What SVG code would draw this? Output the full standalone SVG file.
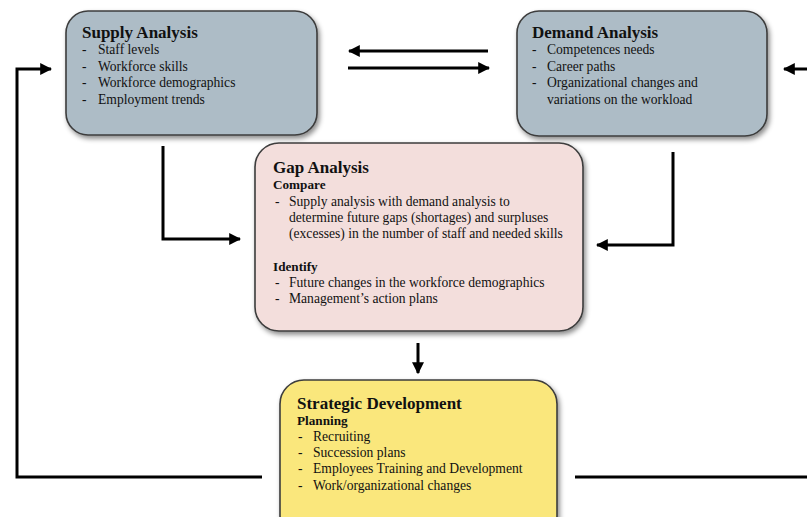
<svg xmlns="http://www.w3.org/2000/svg" width="807" height="517" viewBox="0 0 807 517">
  <defs>
    <filter id="shadow" x="-10%" y="-10%" width="125%" height="130%">
      <feDropShadow dx="2" dy="3" stdDeviation="2.5" flood-color="#000" flood-opacity="0.45"/>
    </filter>
    <marker id="head" viewBox="0 0 10 10" refX="9" refY="5" markerWidth="4" markerHeight="4" orient="auto" markerUnits="strokeWidth">
      <path d="M0,0 L10,5 L0,10 z" fill="#000"/>
    </marker>
    <style>
      .box { stroke: #3c3c3c; stroke-width: 1.6; filter: url(#shadow); }
      .supply, .demand { fill: #adbcc6; }
      .gap { fill: #f3dedc; }
      .strategic { fill: #fae77c; }
      text { font-family: "Liberation Serif", "Times New Roman", serif; fill: #111; }
      .title { font-size: 17px; font-weight: bold; }
      .sub { font-size: 13.2px; font-weight: bold; }
      .item { font-size: 13.6px; }
      .link { fill: none; stroke: #000; stroke-width: 3; }
      .arrow { marker-end: url(#head); }
    </style>
  </defs>

  <rect width="807" height="517" fill="#fff"/>

  <!-- connectors -->
  <g id="connectors">
    <line class="link arrow" x1="488" y1="51" x2="349" y2="51"/>
    <line class="link arrow" x1="348" y1="68" x2="489" y2="68"/>
    <polyline class="link arrow" points="163,146 163,239 240,239"/>
    <polyline class="link arrow" points="673,152 673,245 597,245"/>
    <line class="link arrow" x1="418" y1="343" x2="418" y2="373"/>
    <polyline class="link arrow" points="262,477 17,477 17,69 51,69"/>
    <line class="link" x1="575" y1="477" x2="807" y2="477"/>
    <line class="link arrow" x1="807" y1="69" x2="784" y2="69"/>
  </g>

  <!-- supply analysis -->
  <g id="supply">
    <rect class="box supply" x="66" y="11" width="251" height="124" rx="22"/>
    <text class="title" x="82" y="38">Supply Analysis</text>
    <text class="item" x="82" y="54">-</text><text class="item" x="98" y="54">Staff levels</text>
    <text class="item" x="82" y="71">-</text><text class="item" x="98" y="71">Workforce skills</text>
    <text class="item" x="82" y="87">-</text><text class="item" x="98" y="87">Workforce demographics</text>
    <text class="item" x="82" y="104">-</text><text class="item" x="98" y="104">Employment trends</text>
  </g>

  <!-- demand analysis -->
  <g id="demand">
    <rect class="box demand" x="517" y="11" width="250" height="125" rx="22"/>
    <text class="title" x="532" y="38">Demand Analysis</text>
    <text class="item" x="532" y="54">-</text><text class="item" x="547" y="54">Competences needs</text>
    <text class="item" x="532" y="71">-</text><text class="item" x="547" y="71">Career paths</text>
    <text class="item" x="532" y="87">-</text><text class="item" x="547" y="87">Organizational changes and</text>
    <text class="item" x="547" y="104">variations on the workload</text>
  </g>

  <!-- gap analysis -->
  <g id="gap">
    <rect class="box gap" x="255" y="143" width="328" height="188" rx="24"/>
    <text class="title" x="273" y="173">Gap Analysis</text>
    <text class="sub" x="273" y="189">Compare</text>
    <text class="item" x="275" y="206">-</text><text class="item" x="289" y="206">Supply analysis with demand analysis to</text>
    <text class="item" x="289" y="222">determine future gaps (shortages) and surpluses</text>
    <text class="item" x="289" y="238">(excesses) in the number of staff and needed skills</text>
    <text class="sub" x="273" y="271">Identify</text>
    <text class="item" x="275" y="287">-</text><text class="item" x="289" y="287">Future changes in the workforce demographics</text>
    <text class="item" x="275" y="303">-</text><text class="item" x="289" y="303">Management’s action plans</text>
  </g>

  <!-- strategic development -->
  <g id="strategic">
    <rect class="box strategic" x="280" y="380" width="277" height="160" rx="24"/>
    <text class="title" x="297" y="409">Strategic Development</text>
    <text class="sub" x="297" y="425">Planning</text>
    <text class="item" x="298" y="441">-</text><text class="item" x="313" y="441">Recruiting</text>
    <text class="item" x="298" y="457">-</text><text class="item" x="313" y="457">Succession plans</text>
    <text class="item" x="298" y="473">-</text><text class="item" x="313" y="473">Employees Training and Development</text>
    <text class="item" x="298" y="490">-</text><text class="item" x="313" y="490">Work/organizational changes</text>
  </g>
</svg>
